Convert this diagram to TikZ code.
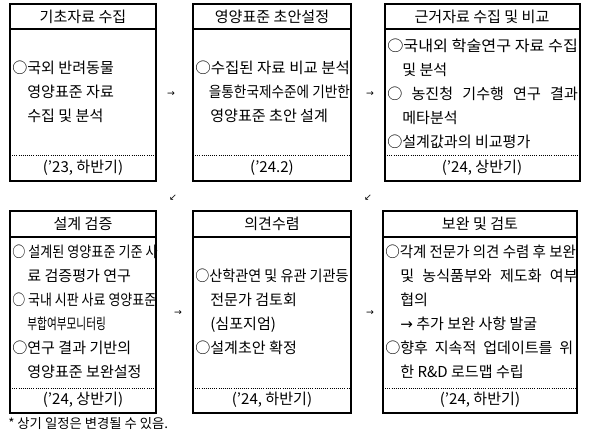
\documentclass[tikz,border=0pt]{standalone}
\usepackage{fontspec}
\setmainfont{Noto Sans CJK KR}
\newfontfamily\symfont{DejaVu Sans}
\usetikzlibrary{positioning}
\tikzset{>=stealth}
\colorlet{penColor}{black}
\newcommand{\indt}{\phantom{○}}
\newcommand{\fitto}[2]{\resizebox{#1}{\height}{#2}}

\begin{document}
\begin{tikzpicture}[x=0.75pt,y=-0.75pt,
  box/.style={draw=penColor, line width=0.8pt},
  sep/.style={draw=penColor, line width=0.6pt, densely dotted},
  ttl/.style={font=\fontsize{11.3}{13}\selectfont, inner sep=0pt},
  txt/.style={font=\fontsize{11.3}{18}\selectfont, align=left, anchor=west, inner sep=0pt},
  flow/.style={font=\symfont\fontsize{7}{8}\selectfont, inner sep=0pt}]
\useasboundingbox (0,0) rectangle (589,433);

% top row
\draw[box] (10,4) rectangle (156,181);
\draw[box] (10,29) -- (156,29);
\draw[sep] (10,155) -- (156,155);
\node[ttl] (t1) at (83,17) {기초자료 수집};
\node[txt] (b1) at (12,92) {○국외 반려동물\\\indt 영양표준 자료\\\indt 수집 및 분석};
\node[ttl] (f1) at (83,168) {(’23, 하반기)};

\draw[box] (193,4) rectangle (351,181);
\draw[box] (193,29) -- (351,29);
\draw[sep] (193,155) -- (351,155);
\node[ttl] (t2) at (272,17) {영양표준 초안설정};
\node[txt] (b2) at (195,92) {\fitto{116pt}{○수집된 자료 비교 분석}\\\fitto{116pt}{\indt 을통한국제수준에 기반한}\\\indt 영양표준 초안 설계};
\node[ttl] (f2) at (272,168) {(’24.2)};

\draw[box] (385,4) rectangle (580,181);
\draw[box] (385,29) -- (580,29);
\draw[sep] (385,155) -- (580,155);
\node[ttl] (t3) at (482,17) {근거자료 수집 및 비교};
\node[txt] (b3) at (387,94) {\fitto{143pt}{○국내외 학술연구 자료 수집}\\\indt 및 분석\\\makebox[143pt][s]{○ 농진청 기수행 연구 결과}\\\indt 메타분석\\○설계값과의 비교평가};
\node[ttl] (f3) at (482,168) {(’24, 상반기)};

% bottom row
\draw[box] (10,211) rectangle (156,413);
\draw[box] (10,237) -- (156,237);
\draw[sep] (10,388) -- (156,388);
\node[ttl] (t4) at (83,224) {설계 검증};
\node[txt] (b4) at (12,312) {\fitto{109pt}{○ 설계된 영양표준 기준 사}\\\indt 료 검증평가 연구\\\fitto{108pt}{○ 국내 시판 사료 영양표준}\\\indt\fitto{59pt}{부합여부모니터링}\\○연구 결과 기반의\\\indt 영양표준 보완설정};
\node[ttl] (f4) at (83,400) {(’24, 상반기)};

\draw[box] (193,211) rectangle (351,413);
\draw[box] (193,237) -- (351,237);
\draw[sep] (193,388) -- (351,388);
\node[ttl] (t5) at (272,224) {의견수렴};
\node[txt] (b5) at (195,312) {\fitto{115pt}{○산학관연 및 유관 기관등}\\\indt 전문가 검토회\\\indt (심포지엄)\\○설계초안 확정};
\node[ttl] (f5) at (272,400) {(’24, 하반기)};

\draw[box] (383,211) rectangle (577,413);
\draw[box] (383,237) -- (577,237);
\draw[sep] (383,388) -- (577,388);
\node[ttl] (t6) at (480,224) {보완 및 검토};
\node[txt] (b6) at (385,312) {\fitto{143pt}{○각계 전문가 의견 수렴 후 보완}\\\indt\makebox[133pt][s]{및 농식품부와 제도화 여부}\\\indt 협의\\\indt {\symfont →} 추가 보완 사항 발굴\\\makebox[141pt][s]{○향후 지속적 업데이트를 위}\\\indt 한 R\&D 로드맵 수립};
\node[ttl] (f6) at (480,400) {(’24, 하반기)};

% flow marks
\node[flow] (a1) at (171,94) {→};
\node[flow] (a2) at (370,94) {→};
\node[flow] (a3) at (173,198) {↙};
\node[flow] (a4) at (368,198) {↙};
\node[flow] (a5) at (178,313) {→};
\node[flow] (a6) at (370,313) {→};

\node[anchor=west, inner sep=0pt, font=\fontsize{10}{12}\selectfont] (note) at (8,423) {* 상기 일정은 변경될 수 있음.};
\end{tikzpicture}
\end{document}
